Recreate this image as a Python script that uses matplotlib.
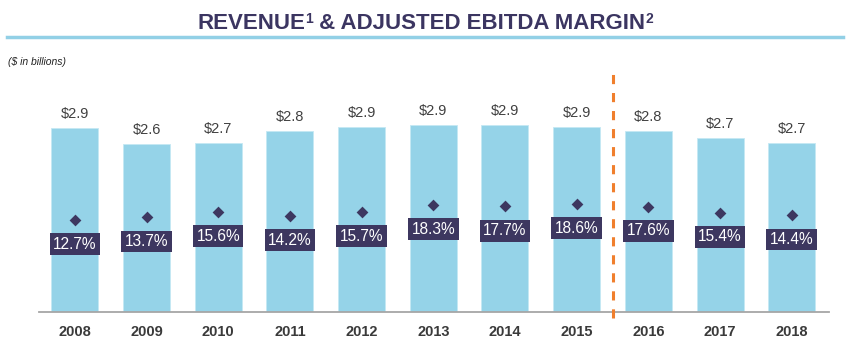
import matplotlib.pyplot as plt
from matplotlib.lines import Line2D
from matplotlib.transforms import offset_copy

plt.rcParams['font.family'] = ['Liberation Sans', 'DejaVu Sans']

# Revenue ($ billions) and adjusted EBITDA margin (%) by year
years = ['2008', '2009', '2010', '2011', '2012', '2013', '2014', '2015', '2016', '2017', '2018']
revenue = [2.87, 2.64, 2.66, 2.83, 2.88, 2.91, 2.91, 2.88, 2.83, 2.73, 2.66]
margin = [12.7, 13.7, 15.6, 14.2, 15.7, 18.3, 17.7, 18.6, 17.6, 15.4, 14.4]

bar_color = '#95d3e8'
navy = '#3d3760'
text_gray = '#404040'

fig = plt.figure(figsize=(8.5, 3.42), dpi=100)
ax = fig.add_axes([39 / 850, 30 / 342, 790 / 850, 212 / 342])

x = list(range(len(years)))
ax.bar(x, revenue, width=0.655, color=bar_color, edgecolor='#c5e8f3', linewidth=0.6, zorder=2)
ax.set_xlim(-0.5, 10.52)
ax.set_ylim(0.24, 3.27)

# revenue labels above the bars
for xi, v in zip(x, revenue):
    ax.annotate(f'${v:.1f}', (xi, v), xytext=(0, 5), textcoords='offset points',
                ha='center', va='bottom', fontsize=10.5, color=text_gray)

# margin on a second scale
ax2 = ax.twinx()
ax2.set_ylim(-21.7, 57.4)
ax2.scatter(x, margin, marker='D', s=36, color=navy, zorder=4, linewidths=0)
for xi, m in zip(x, margin):
    ax2.annotate(f'{m:.1f}%', (xi, m), xytext=(0, -17.5), textcoords='offset points',
                 ha='center', va='center', fontsize=11.2, color='white', zorder=5,
                 bbox=dict(boxstyle='square,pad=0.22', fc=navy, ec='none'))

for a in (ax, ax2):
    for side in ('top', 'right', 'left'):
        a.spines[side].set_visible(False)
    a.set_yticks([])
ax2.spines['bottom'].set_visible(False)
ax.spines['bottom'].set_color('#a6a6a6')
ax.spines['bottom'].set_linewidth(1.3)

ax.set_xticks(x)
ax.set_xticklabels(years, fontsize=10.5, fontweight='bold', color='#3a3a3a')
ax.tick_params(axis='x', length=0, pad=9)

# divider between 2015 and 2016
ax.axvline(7.5, ymin=-0.028, ymax=1.14, color='#f07f2d', linewidth=2.2,
           dashes=(3, 2.9), clip_on=False, zorder=3)

# header: title pieces laid out left to right, footnote marks raised
pieces = [('REVENUE', 16, 0), ('1', 10, 6), (' & ADJUSTED EBITDA MARGIN', 16, 0), ('2', 10, 6)]
renderer = fig.canvas.get_renderer()
items = []
cursor = 0.0
for s, size, rise in pieces:
    t = fig.text(0, 1 - 29 / 342, s, ha='left', va='baseline', fontsize=size,
                 fontweight='bold', color='#3b3561')
    w = t.get_window_extent(renderer).width
    items.append((t, cursor, rise))
    cursor += w
start = 425 - cursor / 2
for t, off, rise in items:
    t.set_transform(offset_copy(fig.transFigure, fig=fig, x=start + off, y=rise, units='dots'))

fig.add_artist(Line2D([7 / 850, 843 / 850], [1 - 37 / 342, 1 - 37 / 342],
                      color='#92d0e6', linewidth=2.5))
fig.text(8 / 850, 1 - 62 / 342, '($ in billions)', ha='left', va='center',
         fontsize=7.5, style='italic', color='#222222')

fig.savefig('out.png', dpi=100)
